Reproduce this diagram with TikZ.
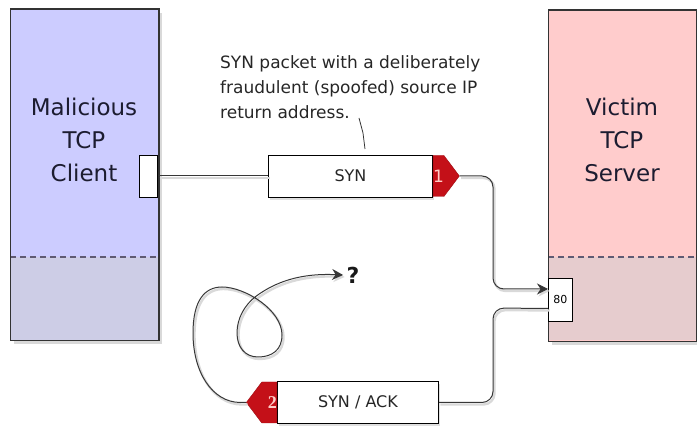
\documentclass[tikz,border=0pt]{standalone}
\usepackage{fontspec}
\setmainfont{DejaVu Sans}
\newfontfamily\numserif{Liberation Serif}
\usetikzlibrary{shadows,shapes.symbols,arrows.meta,calc}
\definecolor{clienttop}{RGB}{204,204,255}
\definecolor{clientbot}{RGB}{205,205,230}
\definecolor{servertop}{RGB}{255,204,204}
\definecolor{serverbot}{RGB}{230,204,206}
\definecolor{flagred}{RGB}{196,16,24}
\definecolor{flagtext}{RGB}{255,205,200}
\definecolor{hosttext}{RGB}{28,28,48}
\definecolor{wiregray}{RGB}{55,55,55}
\definecolor{dashgray}{RGB}{95,90,115}
\tikzset{
  hostbox/.style={draw=black!80, line width=1pt, minimum width=148pt, minimum height=331pt,
    anchor=north west, inner sep=0pt,
    drop shadow={opacity=0.3, shadow xshift=3pt, shadow yshift=-4pt}},
  hostlabel/.style={font=\fontsize{23}{33}\selectfont, text=hosttext, align=center},
  divider/.style={draw=dashgray, dash pattern=on 6pt off 4pt, line width=1.4pt},
  portbox/.style={draw=black, fill=white, line width=0.8pt, inner sep=0pt},
  packet/.style={draw=black, fill=white, line width=0.9pt, minimum height=42pt, inner sep=0pt,
    font=\fontsize{16}{18}\selectfont, text=black!85,
    drop shadow={opacity=0.25, shadow xshift=2pt, shadow yshift=-3pt}},
  flag/.style={signal, fill=flagred, draw=flagred!80!black, line width=0.4pt,
    signal pointer angle=106, minimum width=23pt, minimum height=41pt, inner sep=0pt,
    text=flagtext},
  wire/.style={draw=wiregray, line width=1pt,
    preaction={draw=black!15, line width=2.4pt, transform canvas={shift={(1.5pt,-2pt)}}}},
  tip/.style={-{Stealth[length=11pt,width=11pt]}},
  note/.style={font=\fontsize{17}{25}\selectfont, text=black!85, align=left, inner sep=0pt, anchor=north west},
}
\begin{document}
\begin{tikzpicture}[x=1pt,y=-1pt]
\useasboundingbox (0,0) rectangle (697,427);

% attacking host
\node[hostbox, fill=clienttop] (client) at (10,9) {};
\fill[clientbot] (10,257) rectangle (158,340);
\draw[divider] (10,257) -- (158,257);
\draw[draw=black!80, line width=1pt] (client.north west) rectangle (client.south east);
\node[hostlabel] (clientname) at (84,140) {Malicious\\TCP\\Client};
\node[portbox, minimum width=18pt, minimum height=42pt, anchor=east] (cport) at (158,176) {};

% victim host
\node[hostbox, fill=servertop] (server) at (548,10) {};
\fill[serverbot] (548,257) rectangle (696,340);
\draw[divider] (548,257) -- (696,257);
\draw[draw=black!80, line width=1pt] (server.north west) rectangle (server.south east);
\node[hostlabel] (servername) at (622,140) {Victim\\TCP\\Server};
\node[portbox, minimum width=24pt, minimum height=43pt, anchor=west,
  font=\fontsize{11}{11}\selectfont] (sport) at (548,299.5) {80};

% spoofed SYN
\node[packet, minimum width=164pt, anchor=west] (syn) at (268,176) {SYN};
\node[flag, signal to=east, anchor=west, font=\fontsize{17}{17}\selectfont] (flagone) at (syn.east) {1\hspace{7pt}};
\draw[wire] (cport.east) -- (syn.west);
\draw[wire, tip, rounded corners=11pt] (flagone.east) -- (493,176) -- (493,289) -- ([yshift=10.5pt]sport.west);

% reply going nowhere
\node[packet, minimum width=161pt, anchor=west] (synack) at (277,402.5) {SYN / ACK};
\node[flag, signal to=west, anchor=east, font=\numserif\bfseries\fontsize{18}{18}\selectfont] (flagtwo) at (synack.west) {\hspace{6pt}2};
\draw[wire, rounded corners=11pt] ([yshift=-9pt]sport.west) -- (493,308) -- (493,402.5) -- (synack.east);
\node[font=\bfseries\fontsize{22}{22}\selectfont, text=black!90] (lost) at (353,275) {?};
\draw[wire, tip] (flagtwo.west) -- (240,402.5)
  .. controls (212,402) and (193,372) .. (193,333)
  .. controls (193,300) and (205,287) .. (222,287)
  .. controls (245,287) and (282,310) .. (282,335)
  .. controls (282,350) and (272,357) .. (258,357)
  .. controls (245,357) and (237,347) .. (237,333)
  .. controls (237,318) and (245,305) .. (255,297)
  .. controls (275,282) and (300,273) .. (lost.west);

% annotation on the spoofed packet
\node[note] (spoofnote) at (220,55) {SYN packet with a deliberately\\fraudulent (spoofed) source IP\\return address.};
\coordinate (notefoot) at (359,118);
\coordinate (synhead) at (365,149);
\draw[draw=black!80, line width=0.8pt] (notefoot) -- (363,133) -- (synhead);
\end{tikzpicture}
\end{document}
